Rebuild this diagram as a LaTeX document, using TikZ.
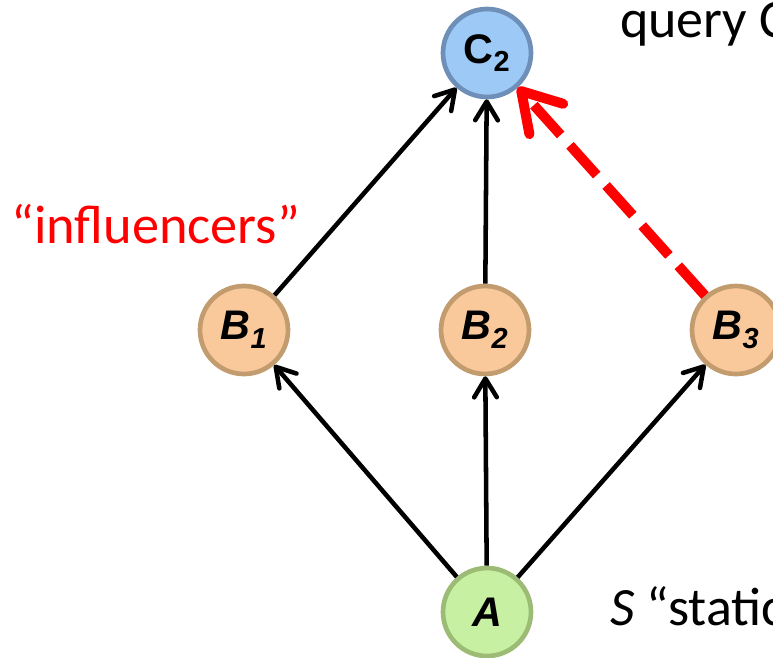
\documentclass[tikz,border=0pt]{standalone}
\usepackage{fontspec}
\setmainfont{Carlito}
\newfontfamily\labelfont{Liberation Sans}
\usetikzlibrary{arrows.meta}

\definecolor{cfill}{HTML}{9DC9F7}
\definecolor{cdraw}{HTML}{6D8FB8}
\definecolor{bfill}{HTML}{F9C99C}
\definecolor{bdraw}{HTML}{C29C6E}
\definecolor{afill}{HTML}{C8F0A2}
\definecolor{adraw}{HTML}{9CBC76}
\definecolor{hot}{HTML}{FF0000}

\tikzset{
  var/.style={circle, minimum size=66pt, inner sep=0pt, line width=3.5pt,
    font=\labelfont\bfseries\fontsize{31}{31}\selectfont},
  cnode/.style={var, fill=cfill, draw=cdraw},
  bnode/.style={var, fill=bfill, draw=bdraw},
  anode/.style={var, fill=afill, draw=adraw},
  edge/.style={line width=3.4pt, black,
    -{Straight Barb[length=14pt,width=17pt,round]}},
  hotedge/.style={line width=7.5pt, hot, dash pattern=on 30pt off 10.5pt,
    -{Straight Barb[length=28pt,width=34pt,round]}},
  caption/.style={font=\fontsize{40.5}{40.5}\selectfont, inner sep=0pt},
}

\begin{document}
\begin{tikzpicture}[x=0.75pt, y=-0.75pt]
\useasboundingbox (0,0) rectangle (773,657);
\clip (0,0) rectangle (773,657);

% variables
\node[cnode] (C2) at (487,53) {C\textsubscript{2}};
\node[bnode] (B1) at (244,330) {\itshape B\textsubscript{1}};
\node[bnode] (B2) at (485,330) {\itshape B\textsubscript{2}};
\node[bnode] (B3) at (736,330) {\itshape B\textsubscript{3}};
\node[anode] (A)  at (487,612) {\itshape A};

% dependencies
\draw[edge] (A) -- (B1);
\draw[edge] (A) -- (B2);
\draw[edge] (A) -- (B3);
\draw[edge] (B1) -- (C2);
\draw[edge] (B2) -- (C2);
\draw[hotedge] (B3) -- (C2);

% captions
\node[caption, anchor=base west] (q) at (620,37) {query C};
\node[caption, anchor=base west, text=hot, font=\fontsize{40.8}{40.8}\selectfont] (inf) at (11,243) {“influencers”};
\node[caption, anchor=base west] (s) at (610,625) {\textit{S} “static};
\end{tikzpicture}
\end{document}
